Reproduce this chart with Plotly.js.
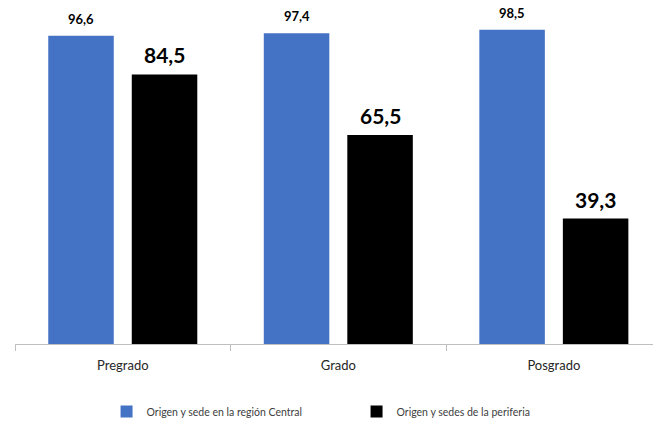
<!DOCTYPE html>
<html><head><meta charset="utf-8">
<script src="https://cdn.plot.ly/plotly-3.0.1.min.js"></script>
<style>html,body{margin:0;padding:0;background:#fff}#chart{width:653px;height:426px}</style>
</head><body><div id="chart"></div>
<script>
const categories = ["Pregrado", "Grado", "Posgrado"];
const seriesNames = ["Origen y sede en la región Central", "Origen y sedes de la periferia"];
const central = [96.6, 97.4, 98.5];
const periferia = [84.5, 65.5, 39.3];

const FONT = 'Lato, "Liberation Sans", sans-serif';
const fmt = v => v.toFixed(1).replace('.', ',');

const traces = [
  {type: 'bar', name: seriesNames[0], x: categories, y: central, marker: {color: '#4472C4'}, hoverinfo: 'none'},
  {type: 'bar', name: seriesNames[1], x: categories, y: periferia, marker: {color: '#000000'}, hoverinfo: 'none'}
];

const annotations = [];
categories.forEach((c, i) => {
  annotations.push({x: c, y: central[i], xref: 'x', yref: 'y', text: '<b>' + fmt(central[i]) + '</b>',
    showarrow: false, yanchor: 'bottom', xshift: -41.75, yshift: 7, font: {family: FONT, size: 13, color: '#000'}});
  annotations.push({x: c, y: periferia[i], xref: 'x', yref: 'y', text: '<b>' + fmt(periferia[i]) + '</b>',
    showarrow: false, yanchor: 'bottom', xshift: 41.75, yshift: 5, font: {family: FONT, size: 21, color: '#000'}});
});

const layout = {
  width: 653, height: 426,
  margin: {l: 15, r: 0, t: 9, b: 81},
  paper_bgcolor: '#fff', plot_bgcolor: '#fff',
  font: {family: FONT, color: '#404040'},
  barmode: 'group', bargap: 0.225, bargroupgap: 0.2156,
  xaxis: {type: 'category', range: [-0.5, 2.46], showline: true, linecolor: '#BFBFBF', linewidth: 1,
    ticks: 'outside', tickson: 'boundaries', ticklen: 6, tickcolor: '#BFBFBF',
    ticklabelstandoff: 9,
    tickfont: {family: FONT, size: 13, color: '#262626'}, showgrid: false, zeroline: false, fixedrange: true},
  yaxis: {range: [0, 105], visible: false, showgrid: false, zeroline: false, fixedrange: true},
  showlegend: true,
  legend: {orientation: 'h', x: 0.1435, xanchor: 'left', y: -0.203, yanchor: 'middle',
    entrywidth: 205, entrywidthmode: 'pixels',
    font: {family: FONT, size: 10.5, color: '#404040'}, traceorder: 'normal'},
  annotations: annotations
};

Plotly.newPlot('chart', traces, layout, {displayModeBar: false, staticPlot: true});
</script></body></html>
